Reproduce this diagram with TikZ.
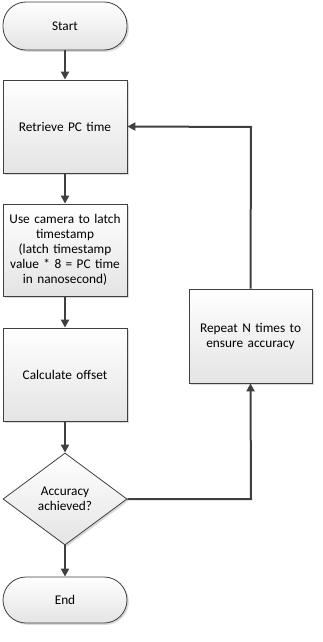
\documentclass[tikz,border=0pt]{standalone}
\usepackage{fontspec}
\setmainfont{Carlito}
\usetikzlibrary{shapes.geometric,arrows.meta,shadows}
\definecolor{lineclr}{HTML}{404040}
\definecolor{boxbot}{HTML}{E4E4E4}
\tikzset{
  base/.style={draw=lineclr, line width=0.8pt, top color=white, bottom color=boxbot,
    align=center, font=\fontsize{13.3}{15}\selectfont, inner sep=0pt,
    drop shadow={shadow xshift=1.8pt, shadow yshift=-1.8pt, fill=black!25, opacity=0.6}},
  procbox/.style={base, rectangle, minimum width=124pt, minimum height=93pt, text width=120pt},
  termbox/.style={base, rectangle, rounded corners=23pt, minimum width=124pt, minimum height=48pt},
  decbox/.style={base, diamond, minimum width=124pt, minimum height=92pt},
  conn/.style={draw=lineclr, line width=2pt, -{Triangle[length=8pt,width=8pt]}},
}
\begin{document}
\begin{tikzpicture}[x=1pt,y=-1pt]
\useasboundingbox (0,0) rectangle (322,642);
\node[termbox] (start) at (65,26) {Start};
\node[procbox] (retr) at (65,126.5) {Retrieve PC time};
\node[procbox, minimum height=92pt] (cam) at (65,250) {Use camera to latch\\timestamp\\(latch timestamp\\value * 8 = PC time\\in nanosecond)};
\node[procbox] (calc) at (65,374.5) {Calculate offset};
\node[decbox] (acc) at (65,499) {Accuracy\\achieved?};
\node[termbox, minimum height=46pt] (end) at (65,600) {End};
\node[procbox, minimum height=94pt, minimum width=123pt, text width=118pt] (rep) at (250.5,336) {Repeat N times to\\ensure accuracy};
\coordinate (c1) at (251,499);
\coordinate (c2) at (251,127);
\draw[conn] (start) -- (retr);
\draw[conn] (retr) -- (cam);
\draw[conn] (cam) -- (calc);
\draw[conn] (calc) -- (acc);
\draw[conn] (acc) -- (end);
\draw[conn] (acc.east) -- (c1) -- (rep.south);
\draw[conn] (rep.north) -- (c2) -- (retr.east);
\end{tikzpicture}
\end{document}
